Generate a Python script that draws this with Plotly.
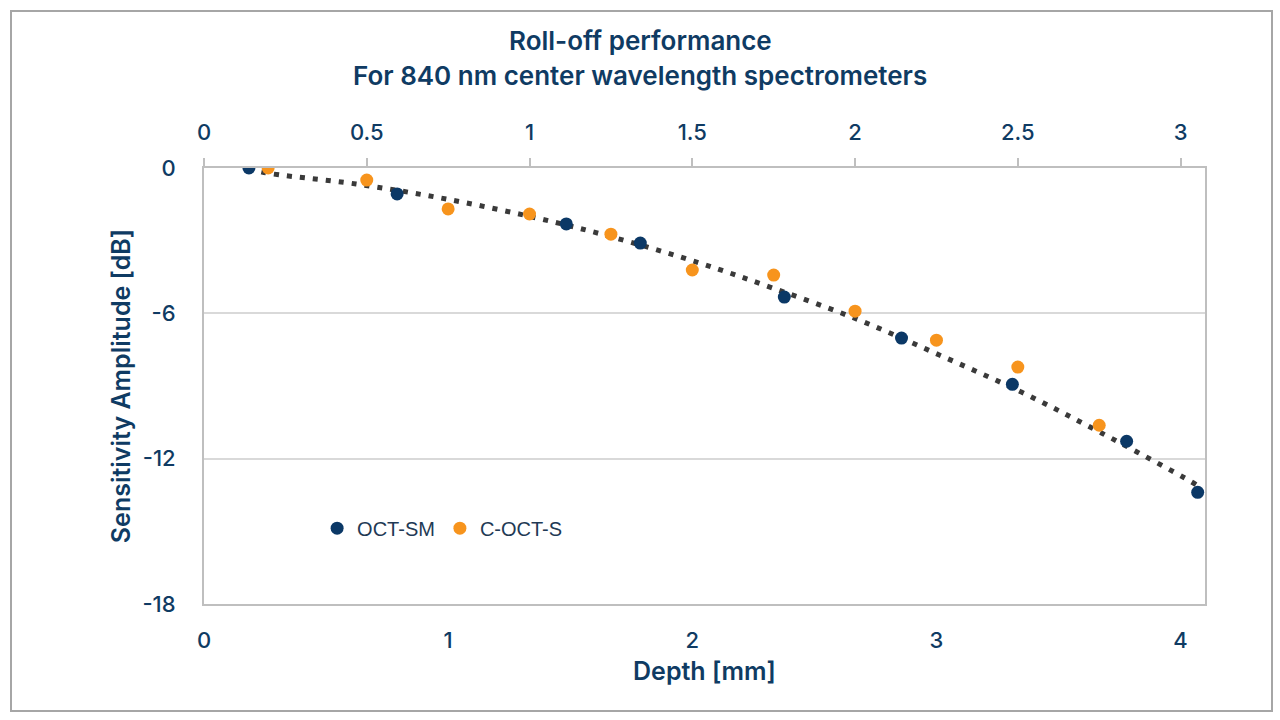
import plotly.graph_objects as go

# OCT-SM (bottom axis, depth in mm)
oct_sm_depth = [0.184, 0.791, 1.484, 1.787, 2.377, 2.857, 3.311, 3.779, 4.07]
oct_sm_db = [0.0, -1.07, -2.31, -3.10, -5.33, -7.02, -8.93, -11.28, -13.39]

# C-OCT-S (top axis)
coct_depth = [0.197, 0.5, 0.75, 1.0, 1.25, 1.5, 1.75, 2.0, 2.25, 2.5, 2.75]
coct_db = [0.0, -0.50, -1.69, -1.90, -2.73, -4.21, -4.42, -5.91, -7.11, -8.22, -10.62]

# Trendline (dotted), bottom-axis units
trend_depth = [0.184, 0.238, 0.623, 0.992, 1.361, 1.672, 2.029, 2.328, 2.672, 3.012, 3.348, 3.676, 4.045, 4.07]
trend_db = [0.0, -0.17, -0.66, -1.28, -2.06, -2.85, -3.92, -4.95, -6.23, -7.72, -9.25, -10.94, -12.96, -13.12]

y_ticks = [0, -6, -12, -18]
x_ticks = [0, 1, 2, 3, 4]
x2_ticks = [0, 0.5, 1, 1.5, 2, 2.5, 3]

title_lines = ["Roll-off performance", "For 840 nm center wavelength spectrometers"]

navy = "#0b3866"
orange = "#f7941d"
text_col = "#0f3b63"
axis_col = "#bfbfbf"
grid_col = "#d9d9d9"

fig = go.Figure()
fig.add_trace(go.Scatter(x=trend_depth, y=trend_db, mode="lines",
                         line=dict(color="#3a3a3a", width=5, dash="5px,8px", shape="spline"),
                         showlegend=False, hoverinfo="skip"))
fig.add_trace(go.Scatter(x=oct_sm_depth, y=oct_sm_db, mode="markers", name="OCT-SM",
                         marker=dict(color=navy, size=13)))
fig.add_trace(go.Scatter(x=coct_depth, y=coct_db, mode="markers", name="C-OCT-S",
                         xaxis="x2", marker=dict(color=orange, size=13)))

tick_font = dict(family="Inter, Roboto, sans-serif", size=22, color=text_col, weight=500)
title_font = dict(family="Inter, Roboto, sans-serif", size=25, color=text_col, weight=600)

fig.update_layout(
    width=1280, height=720,
    margin=dict(l=204, r=75, t=168, b=116),
    paper_bgcolor="white", plot_bgcolor="white",
    xaxis=dict(range=[0, 4.1], tickvals=x_ticks, ticktext=[str(v) for v in x_ticks],
               showgrid=False, zeroline=False, showline=True, linecolor=axis_col, linewidth=2,
               mirror=False, ticks="", ticklabelstandoff=16, tickfont=tick_font,
               title=dict(text="Depth [mm]", font=title_font, standoff=10)),
    xaxis2=dict(range=[0, 3.075], tickvals=x2_ticks, ticktext=["0", "0.5", "1", "1.5", "2", "2.5", "3"],
                overlaying="x", side="top", showgrid=False, zeroline=False,
                showline=True, linecolor=axis_col, linewidth=2,
                ticks="outside", ticklen=8, tickwidth=1.5, tickcolor=axis_col,
                ticklabelstandoff=9, tickfont=tick_font),
    yaxis=dict(range=[-18, 0], tickvals=y_ticks, ticktext=["0", "-6", "-12", "-18"],
               showgrid=True, gridcolor=grid_col, gridwidth=2, zeroline=False,
               showline=True, linecolor=axis_col, linewidth=2, mirror=True,
               ticks="", ticklabelstandoff=22, tickfont=tick_font,
               title=dict(text="Sensitivity Amplitude [dB]", font=title_font, standoff=5)),
    legend=dict(orientation="h", x=0.113, y=0.174, xanchor="left", yanchor="middle",
                bgcolor="rgba(0,0,0,0)", itemwidth=30,
                font=dict(family="Liberation Sans, Arial, sans-serif", size=20, color="#1f3a55")),
    showlegend=True,
)

for txt, ypx in zip(title_lines, [40, 76]):
    fig.add_annotation(text=txt, xref="paper", yref="paper",
                       x=(640 - 204) / 1001, y=(604 - ypx) / 436,
                       xanchor="center", yanchor="middle", showarrow=False,
                       font=dict(family="Inter, Roboto, sans-serif", size=26, color=text_col, weight=600))

# outer chart border
fig.add_shape(type="rect", xref="paper", yref="paper",
              x0=(11 - 204) / 1001, x1=(1272 - 204) / 1001,
              y0=(604 - 711) / 436, y1=(604 - 11) / 436,
              line=dict(color="#a6a6a6", width=2), fillcolor="rgba(0,0,0,0)", layer="below")

fig.write_html("out.html")
